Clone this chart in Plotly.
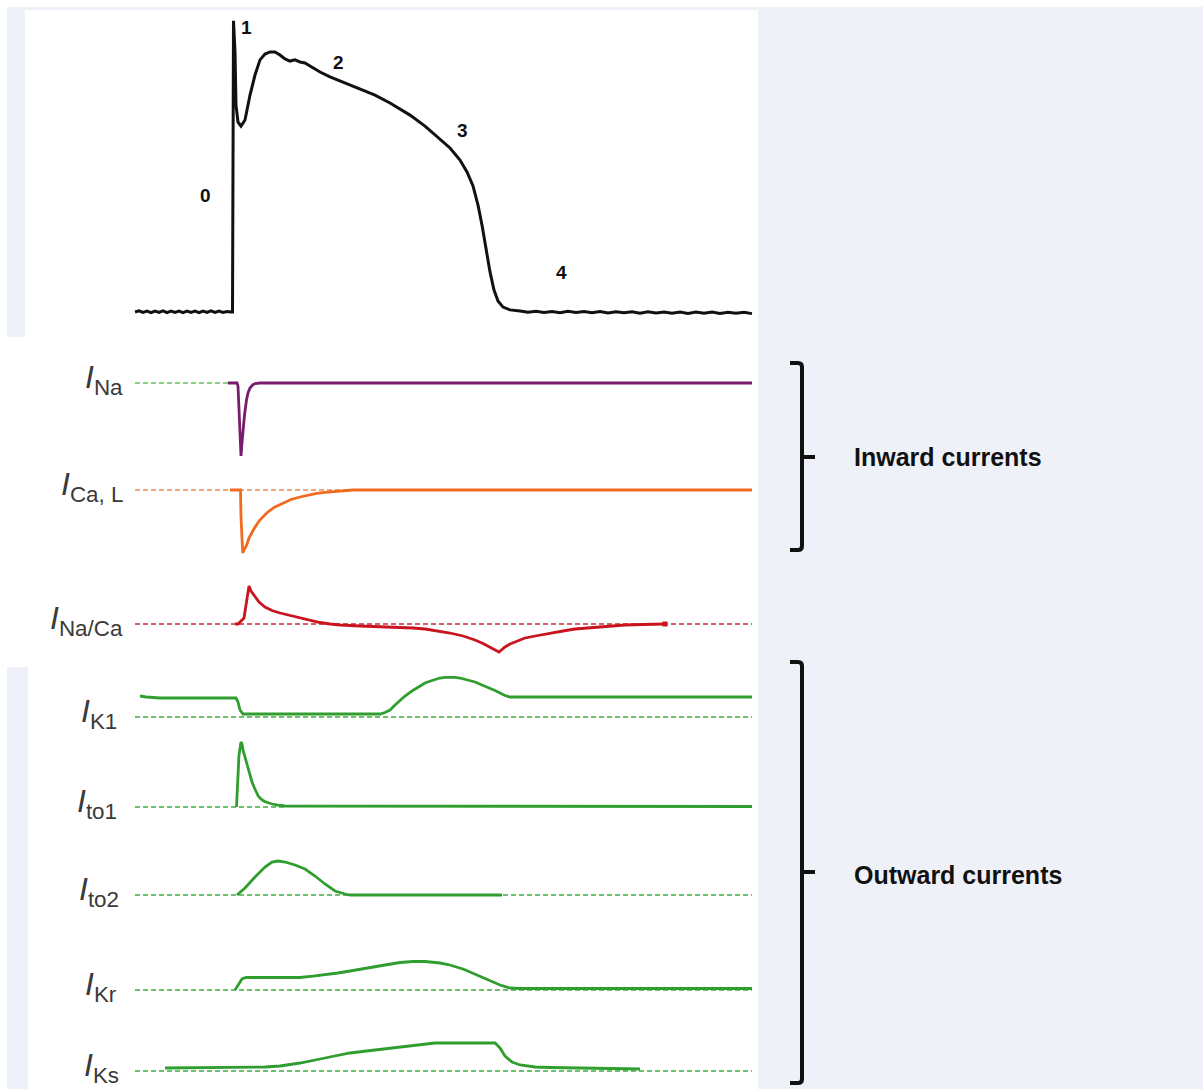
import plotly.graph_objects as go

W, H = 1203, 1089

# ---------------- data (time in ms, upstroke at t = 0) ----------------
AP_T = [-98, -94, -90, -86, -82, -78, -74, -70, -66, -62, -58, -54, -50, -46, -42,
        -38, -34, -30, -26, -22, -18, -14, -10, -6, -2, -0.5,
        0.5, 2, 3, 5, 8, 12, 17, 22, 27, 32, 37, 42, 47, 52, 57, 62, 67, 72, 77, 82,
        87, 97, 107, 117, 127, 142, 157, 167, 177, 192, 207, 217, 227, 234, 240,
        245, 249, 253, 257, 261, 265, 270, 277, 287,
        295, 303, 311, 319, 327, 335, 343, 351, 359, 367, 375, 383, 391, 399, 407,
        415, 423, 431, 439, 447, 455, 463, 471, 479, 487, 495, 503, 511, 519]
AP_V = [-85.0, -84.5, -85.2, -84.6, -85.3, -84.6, -85.2, -84.5, -85.3, -84.6, -85.2,
        -84.6, -85.3, -84.6, -85.2, -84.6, -85.3, -84.6, -85.2, -84.5, -85.2, -84.6,
        -85.2, -84.8, -85.0, -85.0,
        40.0, 26.6, 3.8, -3.5, -5.2, -2.6, 8.1, 16.7, 23.2, 25.7, 26.6, 26.6, 25.3,
        23.6, 22.7, 23.2, 22.3, 21.9, 20.6, 19.3, 18.0, 15.9, 14.1, 12.4, 10.7, 8.1,
        4.7, 2.1, -0.5, -5.2, -10.8, -14.6, -19.8, -24.9, -30.9, -39.1, -47.7, -58.4,
        -67.8, -75.6, -80.3, -82.9, -84.1, -84.6,
        -85.1, -84.7, -85.2, -84.8, -85.3, -84.7, -85.2, -84.8, -85.3, -84.8, -85.4,
        -84.9, -85.3, -84.9, -85.5, -84.9, -85.4, -85.0, -85.5, -85.0, -85.6, -85.0,
        -85.5, -85.0, -85.6, -85.1, -85.5, -85.1, -85.7]

PHASE_LABELS = ["0", "1", "2", "3", "4"]
PHASE_T = [-28, 13, 105, 229, 328]
PHASE_V = [-35, 37, 22, -7, -68]

# currents in arbitrary units (outward positive)
NA_T = [-5, 4, 5, 6.5, 8, 9, 10, 11.5, 13.5, 15, 17, 19.5, 22, 27, 519]
NA_I = [0, 0, -0.3, -3.7, -7.3, -6.0, -4.4, -3.2, -1.7, -1.0, -0.5, -0.2, -0.05, 0, 0]

CAL_T = [-3, 7.5, 8, 9.7, 11, 13.7, 16, 20.3, 26, 33.7, 41, 50.3, 58, 67, 75, 83.7,
         92, 100, 110, 120, 519]
CAL_I = [0, 0, -2.7, -6.3, -6.0, -5.5, -4.8, -4.0, -3.1, -2.3, -1.75, -1.3, -0.95,
         -0.7, -0.5, -0.33, -0.24, -0.17, -0.08, 0, 0]

NACA_T = [2, 5, 11, 16, 18, 20, 22, 26, 32, 39, 47, 57, 67, 77, 87, 97, 107, 127, 147,
          167, 180, 192, 205, 217, 230, 242, 250, 257, 262, 266, 269, 272, 277, 285,
          292, 305, 317, 330, 342, 355, 367, 380, 392, 410, 432]
NACA_I = [0, 0, 0.6, 3.8, 3.3, 3.0, 2.7, 2.2, 1.7, 1.35, 1.1, 0.85, 0.6, 0.35, 0.15,
          0.0, -0.1, -0.2, -0.25, -0.3, -0.4, -0.5, -0.7, -0.9, -1.2, -1.6, -1.95, -2.3,
          -2.55, -2.8, -2.55, -2.3, -2.0, -1.7, -1.4, -1.15, -0.9, -0.7, -0.5, -0.4,
          -0.3, -0.2, -0.1, -0.05, 0]

K1_T = [-93, -87, -73, 3, 5, 7, 10, 147, 152, 157, 162, 167, 172, 179, 185, 192, 199,
        207, 212, 217, 222, 227, 235, 242, 249, 257, 262, 267, 272, 277, 282, 519]
K1_I = [2.1, 2.0, 1.9, 1.9, 1.5, 0.7, 0.3, 0.3, 0.45, 0.7, 1.2, 1.7, 2.1, 2.6, 3.0,
        3.4, 3.65, 3.9, 3.97, 4.0, 3.97, 3.9, 3.7, 3.5, 3.2, 2.9, 2.65, 2.4, 2.15, 2.0,
        2.0, 2.0]

TO1_T = [3.5, 4.5, 6, 8, 9, 10, 12, 14, 16.5, 19, 21, 23, 25, 27, 30, 33, 39, 45, 52,
         519]
TO1_I = [0, 2.7, 5.2, 6.5, 6.3, 5.7, 5.0, 4.2, 3.3, 2.5, 2.0, 1.5, 1.15, 0.9, 0.65,
         0.5, 0.3, 0.18, 0.1, 0.05]

TO2_T = [4, 12, 22, 32, 39, 45, 52, 62, 72, 82, 92, 102, 112, 117, 269]
TO2_I = [0, 0.7, 1.8, 2.8, 3.3, 3.4, 3.3, 3.0, 2.6, 1.9, 1.1, 0.4, 0.1, 0, 0]

KR_T = [2, 5, 9, 13, 67, 80, 92, 105, 117, 130, 142, 155, 167, 180, 192, 200, 207, 215,
        222, 230, 237, 245, 252, 260, 267, 277, 287, 519]
KR_I = [0, 0.5, 1.1, 1.25, 1.25, 1.38, 1.5, 1.7, 1.9, 2.1, 2.3, 2.55, 2.75, 2.85, 2.85,
        2.8, 2.7, 2.55, 2.35, 2.1, 1.8, 1.45, 1.1, 0.75, 0.5, 0.2, 0.15, 0.15]

KS_T = [-68, 32, 47, 67, 92, 117, 142, 167, 202, 262, 267, 272, 279, 287, 302, 317,
        367, 407]
KS_I = [0.3, 0.4, 0.5, 0.8, 1.3, 1.8, 2.1, 2.4, 2.8, 2.8, 2.3, 1.5, 0.9, 0.6, 0.4,
        0.35, 0.3, 0.2]

CURRENT_LABELS = ["Na", "Ca, L", "Na/Ca", "K1", "to1", "to2", "Kr", "Ks"]
DASH_END_T = [-5, 119, 519, 519, 52, 519, 519, 519]
GROUP_LABELS = ["Inward currents", "Outward currents"]

# ---------------- styling / layout ----------------
T_START = -98
X_RANGE = [-233, W - 233]
AP_REST, AP_REST_PX, AP_SCALE = -85.0, 312, 2.33
CUR_SCALE = 10.0
ROW_BASE_PX = [383, 490, 624, 717, 807, 895, 990, 1071]

PURPLE = "#7a1c6c"
ORANGE = "#f26a1f"
RED = "#c9141f"
GREEN = "#2f9e2f"
LINE_COL = [PURPLE, ORANGE, RED, GREEN, GREEN, GREEN, GREEN, GREEN]
DASH_COL = ["#86d186", "#f2a47a", "#d9606a", "#6cbf6c", "#6cbf6c", "#6cbf6c",
            "#6cbf6c", "#6cbf6c"]
SERIES = [(NA_T, NA_I), (CAL_T, CAL_I), (NACA_T, NACA_I), (K1_T, K1_I),
          (TO1_T, TO1_I), (TO2_T, TO2_I), (KR_T, KR_I), (KS_T, KS_I)]
LABEL_RIGHT_PX = [125, 125, 125, 119, 119, 121, 119, 121]

fig = go.Figure()

# action potential
fig.add_trace(go.Scatter(x=AP_T, y=AP_V, mode="lines",
                         line=dict(color="#111111", width=3), hoverinfo="skip",
                         showlegend=False, xaxis="x", yaxis="y"))

layout_axes = {}
ap_top = AP_REST + AP_REST_PX / AP_SCALE
layout_axes["yaxis"] = dict(domain=[0, 1], range=[ap_top - H / AP_SCALE, ap_top],
                            visible=False, fixedrange=True)

annotations = []
for i, (t, v) in enumerate(SERIES):
    ax_name = "y%d" % (i + 2)
    top = ROW_BASE_PX[i] / CUR_SCALE
    layout_axes["yaxis%d" % (i + 2)] = dict(domain=[0, 1], range=[top - H / CUR_SCALE, top],
                                            overlaying="y", anchor="x", visible=False,
                                            fixedrange=True)
    # dashed zero line
    fig.add_trace(go.Scatter(x=[T_START, DASH_END_T[i]], y=[0, 0], mode="lines",
                             line=dict(color=DASH_COL[i], width=1.8, dash="5px,3px"),
                             hoverinfo="skip", showlegend=False, xaxis="x", yaxis=ax_name))
    fig.add_trace(go.Scatter(x=t, y=v, mode="lines",
                             line=dict(color=LINE_COL[i], width=2.8),
                             hoverinfo="skip", showlegend=False, xaxis="x", yaxis=ax_name))
    annotations.append(dict(x=LABEL_RIGHT_PX[i] - 233, y=0, xref="x", yref=ax_name,
                            xanchor="right", yanchor="middle", showarrow=False,
                            yshift=4,
                            text="<i>I</i><sub>%s</sub>" % CURRENT_LABELS[i],
                            font=dict(family="Liberation Sans, Arial", size=32,
                                      color="#3a3a3a")))

# end marker of Na/Ca exchanger trace
fig.add_trace(go.Scatter(x=[NACA_T[-1]], y=[NACA_I[-1]], mode="markers",
                         marker=dict(symbol="square", size=5, color=RED),
                         hoverinfo="skip", showlegend=False, xaxis="x", yaxis="y4"))

for lab, t, v in zip(PHASE_LABELS, PHASE_T, PHASE_V):
    annotations.append(dict(x=t, y=v, xref="x", yref="y", showarrow=False,
                            text="<b>%s</b>" % lab,
                            font=dict(family="Liberation Sans, Arial", size=19,
                                      color="#111111")))


def px(x):
    return x / W


def py(y):
    return 1 - y / H


shapes = [
    dict(type="rect", xref="paper", yref="paper", x0=px(7), x1=1, y0=0, y1=py(7),
         fillcolor="#eef1f7", line=dict(width=0), layer="below"),
    dict(type="rect", xref="paper", yref="paper", x0=px(25), x1=px(758), y0=py(337),
         y1=py(10), fillcolor="#ffffff", line=dict(width=0), layer="below"),
    dict(type="rect", xref="paper", yref="paper", x0=0, x1=px(758), y0=py(667),
         y1=py(337), fillcolor="#ffffff", line=dict(width=0), layer="below"),
    dict(type="rect", xref="paper", yref="paper", x0=px(28), x1=px(758), y0=0,
         y1=py(667), fillcolor="#ffffff", line=dict(width=0), layer="below"),
]


def bracket(top, mid, bot):
    xv, xl, xr = 802, 790, 815
    pts = (f"M {px(xl)},{py(top)} L {px(xv - 4)},{py(top)} "
           f"Q {px(xv)},{py(top)} {px(xv)},{py(top + 4)} "
           f"L {px(xv)},{py(bot - 4)} Q {px(xv)},{py(bot)} {px(xv - 4)},{py(bot)} "
           f"L {px(xl)},{py(bot)} M {px(xv)},{py(mid)} L {px(xr)},{py(mid)}")
    return dict(type="path", xref="paper", yref="paper", path=pts,
                line=dict(color="#111111", width=4))


shapes.append(bracket(363, 457, 550))
shapes.append(bracket(662, 872, 1083))

for lab, ymid in zip(GROUP_LABELS, [457, 875]):
    annotations.append(dict(x=px(852), y=py(ymid), xref="paper", yref="paper",
                            xanchor="left", yanchor="middle", showarrow=False,
                            text="<b>%s</b>" % lab,
                            font=dict(family="Liberation Sans, Arial", size=25,
                                      color="#111111")))

fig.update_layout(
    width=W, height=H, margin=dict(l=0, r=0, t=0, b=0),
    paper_bgcolor="#ffffff", plot_bgcolor="rgba(0,0,0,0)",
    xaxis=dict(domain=[0, 1], range=X_RANGE, visible=False, fixedrange=True),
    shapes=shapes, annotations=annotations, showlegend=False,
    **layout_axes,
)

fig.write_html("out.html", config={"displayModeBar": False})
